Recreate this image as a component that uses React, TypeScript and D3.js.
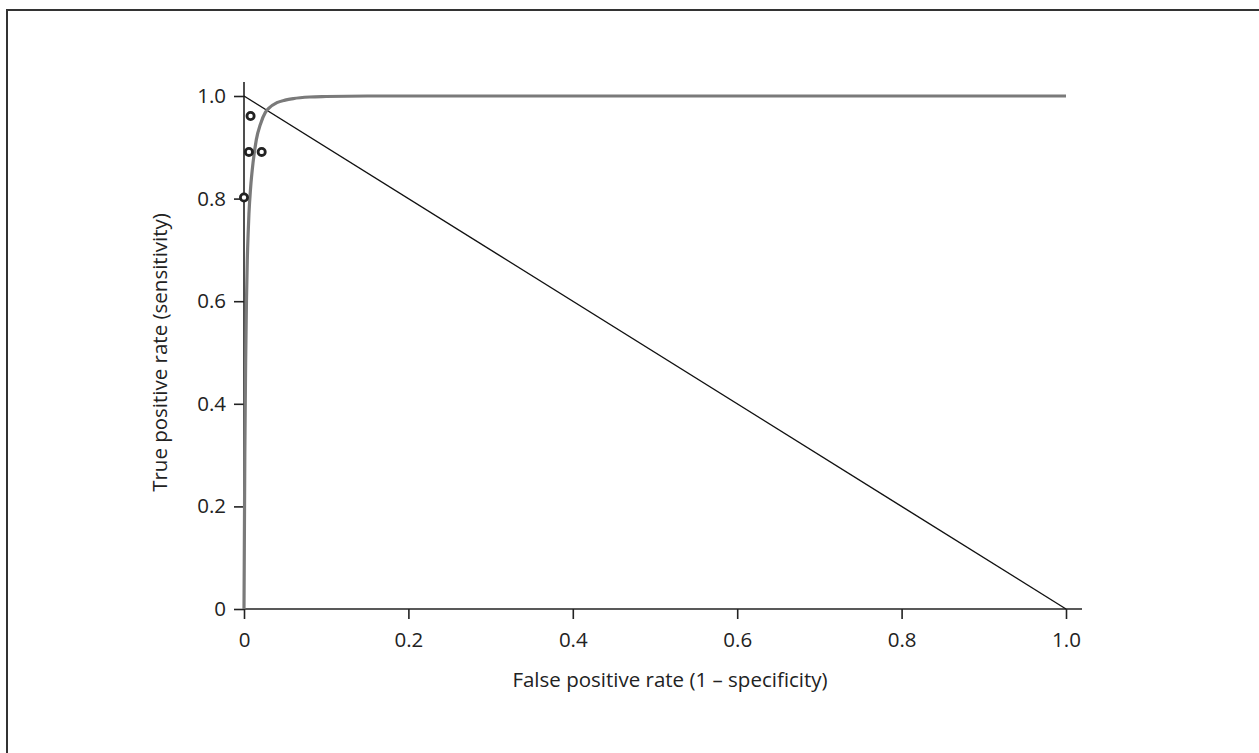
import React, { useEffect, useRef } from 'react';
import * as d3 from 'd3';

// ROC curve (false positive rate, true positive rate)
const ROC_FPR = [0, 0.0005, 0.001, 0.002, 0.003, 0.004, 0.005, 0.006, 0.008, 0.011, 0.015, 0.02, 0.026, 0.03, 0.04, 0.05, 0.06, 0.08, 0.1, 0.15, 0.2, 0.4, 0.6, 0.8, 1.0];
const ROC_TPR = [0, 0.15, 0.3, 0.48, 0.6, 0.68, 0.73, 0.77, 0.82, 0.87, 0.915, 0.945, 0.968, 0.976, 0.987, 0.992, 0.995, 0.998, 0.999, 1.0, 1.0, 1.0, 1.0, 1.0, 1.0];

// observed operating points
const PT_FPR = [0.008, 0.006, 0.0215, 0.0];
const PT_TPR = [0.961, 0.891, 0.891, 0.802];

// reference diagonal
const DIAG_FPR = [0, 1];
const DIAG_TPR = [1, 0];

const X_TICKS = [0, 0.2, 0.4, 0.6, 0.8, 1.0];
const X_TICK_LABELS = ['0', '0.2', '0.4', '0.6', '0.8', '1.0'];
const Y_TICKS = [0, 0.2, 0.4, 0.6, 0.8, 1.0];
const Y_TICK_LABELS = ['0', '0.2', '0.4', '0.6', '0.8', '1.0'];

const W = 1259;
const H = 753;
const FONT = '"Open Sans", Lato, sans-serif';
const FONT_SIZE = 20.5;

const App: React.FC = () => {
  const ref = useRef<SVGSVGElement>(null);

  useEffect(() => {
    const svgEl = ref.current;
    if (!svgEl) return;
    const svg = d3.select(svgEl);
    svg.selectAll('*').remove();

    // outer frame (right and bottom edges fall outside the picture)
    svg.append('rect')
      .attr('x', 7)
      .attr('y', 10)
      .attr('width', W + 40)
      .attr('height', H + 40)
      .attr('fill', '#fff')
      .attr('stroke', '#333')
      .attr('stroke-width', 2);

    const x = d3.scaleLinear().domain([0, 1]).range([244, 1066]);
    const y = d3.scaleLinear().domain([0, 1]).range([609, 96]);

    const axisColor = '#222';

    // axis lines, each running a bit past 1.0
    svg.append('line')
      .attr('x1', x(0)).attr('x2', x(1) + 16)
      .attr('y1', y(0)).attr('y2', y(0))
      .attr('stroke', axisColor).attr('stroke-width', 1.6);
    svg.append('line')
      .attr('x1', x(0)).attr('x2', x(0))
      .attr('y1', y(0)).attr('y2', y(1) - 14)
      .attr('stroke', axisColor).attr('stroke-width', 1.6);

    const xAxis = d3.axisBottom(x)
      .tickValues(X_TICKS)
      .tickSize(10)
      .tickPadding(13)
      .tickFormat((_, i) => X_TICK_LABELS[i]);
    svg.append('g')
      .attr('transform', `translate(0,${y(0)})`)
      .call(xAxis)
      .call((s) => s.select('.domain').remove())
      .call((s) => s.selectAll('line').attr('stroke', axisColor).attr('stroke-width', 1.6))
      .call((s) => s.selectAll('text').attr('fill', '#222').attr('font-size', FONT_SIZE).attr('font-family', FONT));

    const yAxis = d3.axisLeft(y)
      .tickValues(Y_TICKS)
      .tickSize(10)
      .tickPadding(8)
      .tickFormat((_, i) => Y_TICK_LABELS[i]);
    svg.append('g')
      .attr('transform', `translate(${x(0)},0)`)
      .call(yAxis)
      .call((s) => s.select('.domain').remove())
      .call((s) => s.selectAll('line').attr('stroke', axisColor).attr('stroke-width', 1.6))
      .call((s) => s.selectAll('text').attr('fill', '#222').attr('font-size', FONT_SIZE).attr('font-family', FONT));

    const pairLine = d3.line<[number, number]>().x((d) => x(d[0])).y((d) => y(d[1]));

    // diagonal
    svg.append('path')
      .datum(DIAG_FPR.map((f, i) => [f, DIAG_TPR[i]] as [number, number]))
      .attr('d', pairLine)
      .attr('fill', 'none')
      .attr('stroke', '#111')
      .attr('stroke-width', 1.4);

    // ROC curve
    svg.append('path')
      .datum(ROC_FPR.map((f, i) => [f, ROC_TPR[i]] as [number, number]))
      .attr('d', pairLine.curve(d3.curveMonotoneX))
      .attr('fill', 'none')
      .attr('stroke', '#7a7a7a')
      .attr('stroke-width', 3.2)
      .attr('stroke-linejoin', 'round');

    // points
    svg.selectAll('circle.pt')
      .data(PT_FPR.map((f, i) => [f, PT_TPR[i]]))
      .join('circle')
      .attr('class', 'pt')
      .attr('cx', (d) => x(d[0]))
      .attr('cy', (d) => y(d[1]))
      .attr('r', 3.6)
      .attr('fill', '#fff')
      .attr('stroke', '#222')
      .attr('stroke-width', 2.8);

    // axis titles
    svg.append('text')
      .attr('x', 670)
      .attr('y', 687)
      .attr('text-anchor', 'middle')
      .attr('fill', '#222')
      .attr('font-family', FONT)
      .attr('font-size', FONT_SIZE)
      .text('False positive rate (1 – specificity)');

    svg.append('text')
      .attr('transform', `translate(167,${(y(0) + y(1)) / 2}) rotate(-90)`)
      .attr('text-anchor', 'middle')
      .attr('fill', '#222')
      .attr('font-family', FONT)
      .attr('font-size', FONT_SIZE)
      .text('True positive rate (sensitivity)');
  }, []);

  return (
    <svg
      ref={ref}
      width={W}
      height={H}
      style={{ position: 'absolute', left: 0, top: 0, background: '#fff' }}
      aria-label="ROC curve"
    />
  );
};

export default App;
